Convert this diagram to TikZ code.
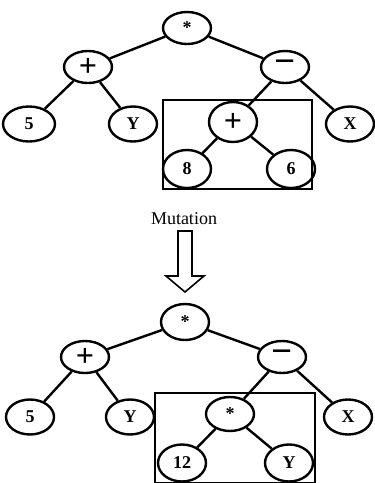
\documentclass[tikz,border=0pt]{standalone}
\usepackage{fontspec}
\setmainfont{Liberation Serif}
\usetikzlibrary{shapes.geometric}
\begin{document}
\begin{tikzpicture}[x=1pt,y=-1pt,
  every node/.style={inner sep=0pt},
  tnode/.style={ellipse,draw,line width=2.4pt,minimum width=48pt,minimum height=32pt,font=\fontsize{18}{18}\selectfont\bfseries},
  leaf/.style={tnode,minimum height=35pt},
  op/.style={tnode,font=\fontsize{32}{32}\selectfont\bfseries},
  minus/.style={tnode,font=\fontsize{37}{37}\selectfont\bfseries},
  edge/.style={line width=2.4pt},
  frame/.style={draw,line width=2.4pt},
  bigarrow/.style={draw,line width=1.6pt,line join=miter}]
\useasboundingbox (0,0) rectangle (375,483);

% original tree
\draw[frame] (163,100) rectangle (312,189);
\node[tnode] (r1) at (187,28) {*};
\node[op] (p1) at (88,67) {+};
\node[minus] (m1) at (285,67) {−};
\node[leaf,minimum width=52pt] (a1) at (29,124) {5};
\node[leaf] (b1) at (133,124) {Y};
\node[leaf] (x1) at (350,124) {X};
\node[op,minimum height=40pt] (q1) at (233,122) {+};
\node[leaf,minimum height=38pt] (c1) at (187,169) {8};
\node[leaf,minimum height=38pt] (d1) at (291,169) {6};
\draw[edge] (r1) -- (p1);
\draw[edge] (r1) -- (m1);
\draw[edge] (p1) -- (a1);
\draw[edge] (p1) -- (b1);
\draw[edge] (m1) -- (q1);
\draw[edge] (m1) -- (x1);
\draw[edge] (q1) -- (c1);
\draw[edge] (q1) -- (d1);

% mutation step: label and hollow down arrow
\node[font=\fontsize{18}{18}\selectfont] (mut) at (184,219) {Mutation};
\draw[bigarrow] (178,231) -- (192,231) -- (192,276) -- (204,276) -- (185,292)
  -- (166,276) -- (178,276) -- cycle;

% mutated tree
\draw[frame] (155,393) rectangle (315,483);
\node[tnode,minimum height=36pt] (r2) at (185,322) {*};
\node[op] (p2) at (85,357) {+};
\node[minus] (m2) at (282,357) {−};
\node[leaf] (a2) at (30,417) {5};
\node[leaf] (b2) at (130,417) {Y};
\node[leaf] (x2) at (348,417) {X};
\node[tnode,minimum height=34pt] (q2) at (230,414) {*};
\node[leaf,minimum height=37pt] (c2) at (182,463) {12};
\node[leaf,minimum height=37pt] (d2) at (289,463) {Y};
\draw[edge] (r2) -- (p2);
\draw[edge] (r2) -- (m2);
\draw[edge] (p2) -- (a2);
\draw[edge] (p2) -- (b2);
\draw[edge] (m2) -- (q2);
\draw[edge] (m2) -- (x2);
\draw[edge] (q2) -- (c2);
\draw[edge] (q2) -- (d2);
\end{tikzpicture}
\end{document}
